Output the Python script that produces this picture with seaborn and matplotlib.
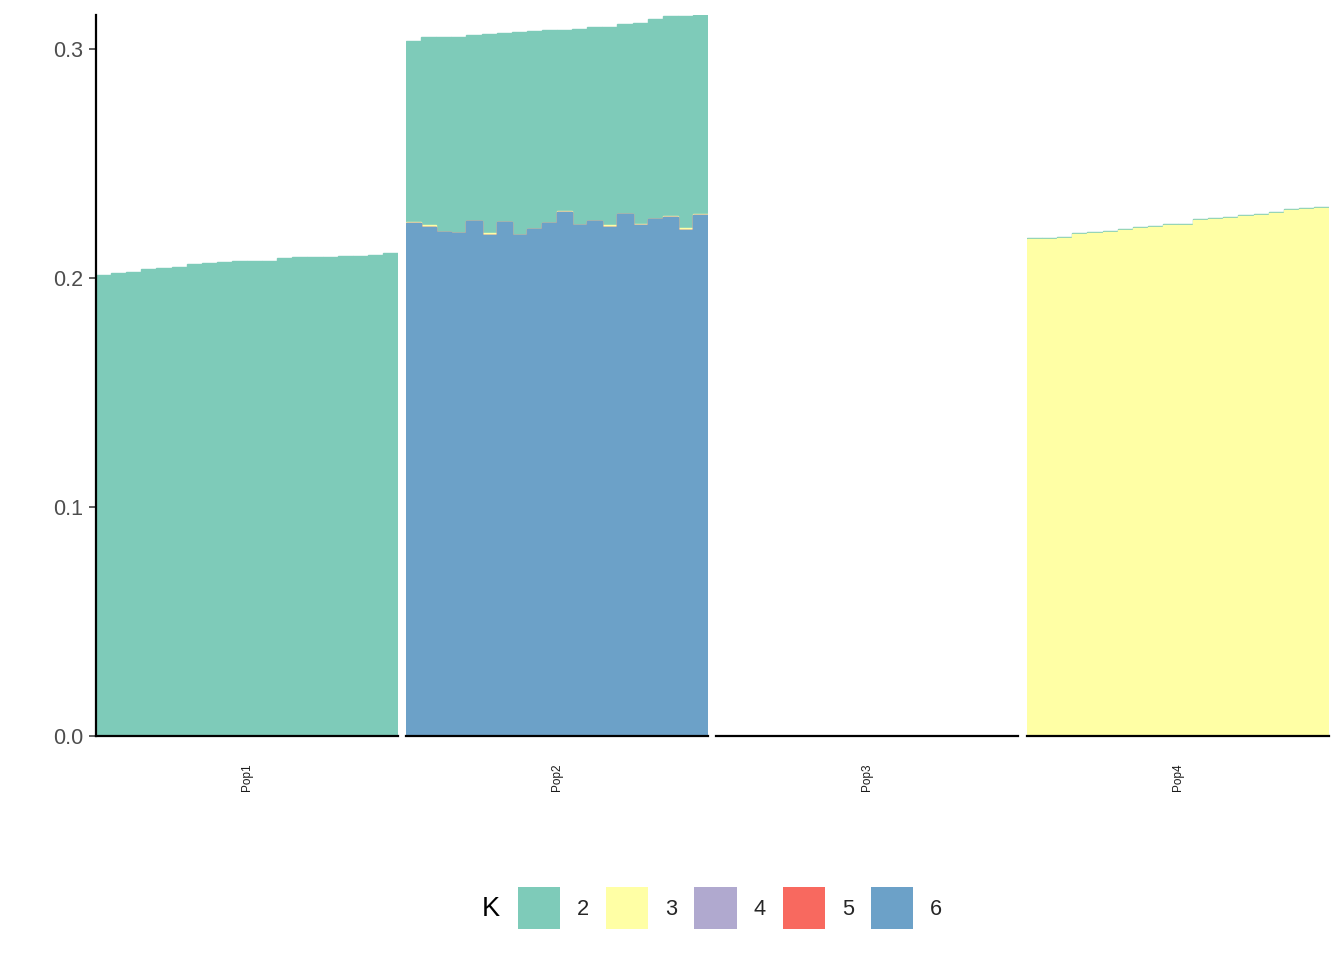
import numpy as np
import pandas as pd
import matplotlib
matplotlib.use("Agg")
import matplotlib.pyplot as plt
from matplotlib.patches import Patch
import seaborn as sns

sns.set_theme(style="white")
plt.rcParams['font.family'] = ['Liberation Sans', 'DejaVu Sans']

# Populations and ancestry clusters
pops = ["Pop1", "Pop2", "Pop3", "Pop4"]
k_levels = ["2", "3", "4", "5", "6"]
k_colors = {"2": "#7ECBB9", "3": "#FFFFA5", "4": "#B0A9CF", "5": "#F8695F", "6": "#6CA1C8"}
n_ind = 20

# Per-individual values (20 individuals per population)
pop1_k2 = [0.2013, 0.2022, 0.2026, 0.2039, 0.2044, 0.2048, 0.2061, 0.2066, 0.2070, 0.2074,
           0.2074, 0.2074, 0.2087, 0.2092, 0.2092, 0.2092, 0.2096, 0.2096, 0.2100, 0.2109]

pop2_k6 = [0.2240, 0.2223, 0.2201, 0.2197, 0.2249, 0.2188, 0.2245, 0.2188, 0.2214, 0.2240,
           0.2288, 0.2231, 0.2249, 0.2223, 0.2279, 0.2231, 0.2258, 0.2266, 0.2210, 0.2275]
pop2_k3 = [0.0006, 0.0006, 0.0, 0.0, 0.0, 0.0006, 0.0, 0.0, 0.0, 0.0,
           0.0006, 0.0, 0.0, 0.0006, 0.0, 0.0006, 0.0, 0.0006, 0.0006, 0.0006]
pop2_k2 = [0.0789, 0.0823, 0.0851, 0.0855, 0.0812, 0.0872, 0.0825, 0.0886, 0.0865, 0.0843,
           0.0789, 0.0856, 0.0847, 0.0867, 0.0830, 0.0877, 0.0873, 0.0872, 0.0928, 0.0867]

pop3_k2 = [0.0] * n_ind

pop4_k3 = [0.2171, 0.2171, 0.2175, 0.2193, 0.2197, 0.2201, 0.2210, 0.2219, 0.2223, 0.2232,
           0.2232, 0.2254, 0.2258, 0.2262, 0.2271, 0.2275, 0.2284, 0.2297, 0.2302, 0.2306]
pop4_k2 = [0.0002, 0.0005, 0.0002, 0.0002, 0.0002, 0.0002, 0.0002, 0.0005, 0.0002, 0.0002,
           0.0002, 0.0005, 0.0002, 0.0002, 0.0002, 0.0002, 0.0005, 0.0002, 0.0002, 0.0005]

values = {
    "Pop1": {"2": pop1_k2},
    "Pop2": {"2": pop2_k2, "3": pop2_k3, "6": pop2_k6},
    "Pop3": {"2": pop3_k2},
    "Pop4": {"2": pop4_k2, "3": pop4_k3},
}

rows = []
for p in pops:
    for k in k_levels:
        vals = values[p].get(k, [0.0] * n_ind)
        for i, v in enumerate(vals):
            rows.append({"pop": p, "ind": i, "K": k, "q": v})
df = pd.DataFrame(rows)

# Stack from the bottom: K=6 first, K=2 on top
stack_order = k_levels[::-1]
df["K"] = pd.Categorical(df["K"], categories=stack_order, ordered=True)
df = df.sort_values(["pop", "ind", "K"])
df["cum"] = df.groupby(["pop", "ind"], observed=True)["q"].cumsum()

fig = plt.figure(figsize=(13.44, 9.6), dpi=100)
W, H = 1344, 960
panel_left = [96, 406, 716, 1027]
panel_w = 302
bottom_px, top_px = 736, 15
ymax = 0.3148

for j, p in enumerate(pops):
    ax = fig.add_axes([panel_left[j] / W, 1 - bottom_px / H, panel_w / W, (bottom_px - top_px) / H])
    sub = df[df["pop"] == p]
    # draw the tallest cumulative layer first, then overlay lower ones
    for k in k_levels:
        layer = sub[sub["K"] == k]
        sns.barplot(data=layer, x="ind", y="cum", color=k_colors[k], saturation=1,
                    width=1, errorbar=None, linewidth=1.0,
                    edgecolor=k_colors[k], ax=ax)
    ax.set_xlim(-0.5, n_ind - 0.5)
    ax.set_ylim(0, ymax)
    ax.set_xlabel("")
    ax.set_ylabel("")
    ax.set_xticks([(n_ind - 1) / 2])
    ax.set_xticklabels([p], rotation=90, fontsize=8.5, color="#1A1A1A")
    ax.tick_params(axis="x", length=0, pad=20)
    for s in ["top", "right"]:
        ax.spines[s].set_visible(False)
    ax.spines["bottom"].set_color("black")
    ax.spines["bottom"].set_linewidth(1.6)
    if j == 0:
        ax.spines["left"].set_color("black")
        ax.spines["left"].set_linewidth(1.6)
        ax.set_yticks([0.0, 0.1, 0.2, 0.3])
        ax.set_yticklabels(["0.0", "0.1", "0.2", "0.3"], fontsize=15.5, color="#4D4D4D")
        ax.tick_params(axis="y", length=5, width=1.1, color="#333333", pad=4, left=True)
    else:
        ax.spines["left"].set_visible(False)
        ax.set_yticks([])

handles = [Patch(facecolor=k_colors[k], edgecolor="none") for k in k_levels]
fig.legend(handles, k_levels, loc="center", bbox_to_anchor=(730 / W, 1 - 908 / H),
           ncol=5, frameon=False, fontsize=15.7, handlelength=1.93, handleheight=2.59,
           handletextpad=0.78, columnspacing=0.78, borderpad=0, borderaxespad=0)
fig.text(491 / W, 1 - 909 / H, "K", fontsize=19.5, ha="center", va="center", color="black")

fig.savefig("out.png", dpi=100)
